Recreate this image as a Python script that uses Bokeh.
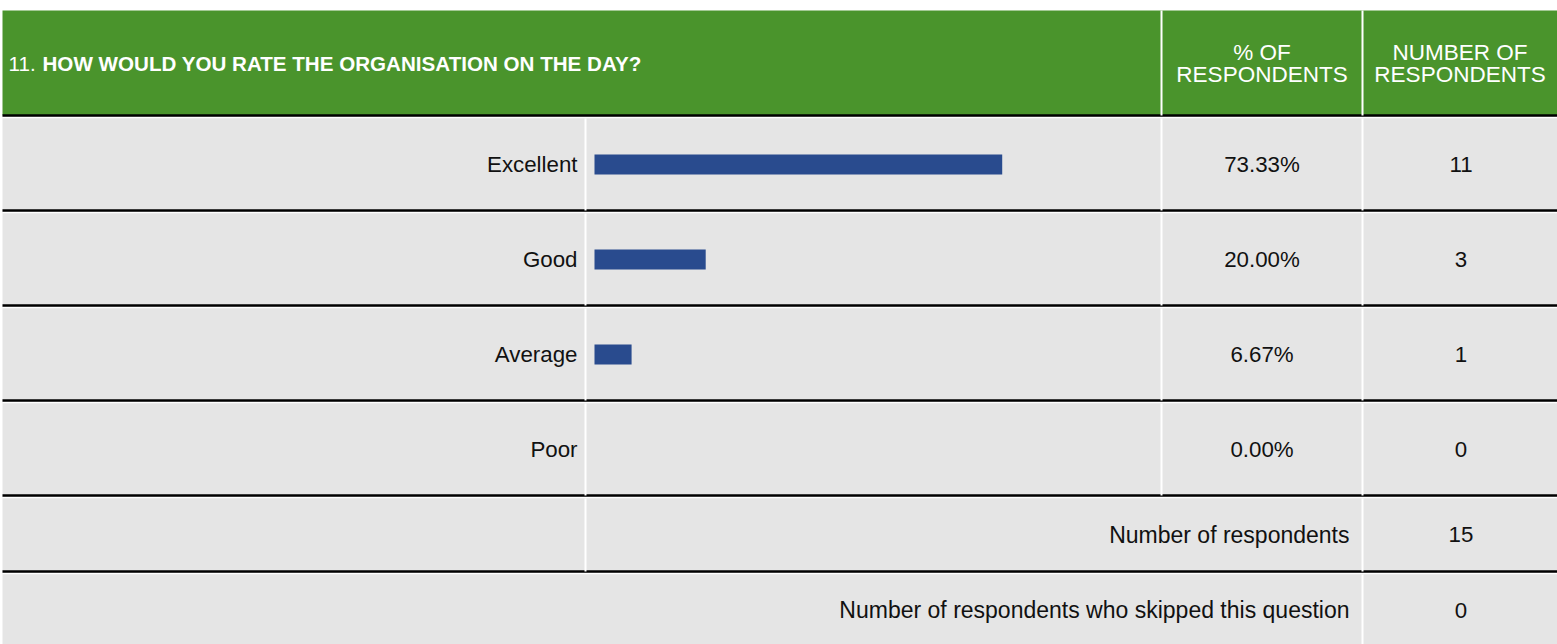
from bokeh.plotting import figure
from bokeh.models import Range1d
from bokeh.core.properties import value
from bokeh.embed import file_html
from bokeh.resources import INLINE

# ---- data ----
question_no = "11. "
question = "HOW WOULD YOU RATE THE ORGANISATION ON THE DAY?"
col_headers = ["% OF\nRESPONDENTS", "NUMBER OF\nRESPONDENTS"]
categories = ["Excellent", "Good", "Average", "Poor"]
percents = [73.33, 20.00, 6.67, 0.00]
counts = [11, 3, 1, 0]
total_label = "Number of respondents"
total_value = 15
skipped_label = "Number of respondents who skipped this question"
skipped_value = 0

# ---- layout (pixels) ----
W, H = 1557, 644
FONT = "Liberation Sans"
GREEN = "#4A942C"
GRAY = "#E5E5E5"
BLUE = "#294B8E"
BODY = "22.3px"
left_edge = 2
col1, col2, col3 = 585, 1161, 1362
head_top, head_bot = 10, 115
row_h = 95
row_tops = [head_bot + i * row_h for i in range(len(categories))]
sum_tops = [row_tops[-1] + row_h, row_tops[-1] + row_h + 76]
sum_bots = [sum_tops[1], H + 5]
bar_zero, bar_hundred = 594, 1150

p = figure(width=W, height=H, x_range=Range1d(0, W), y_range=Range1d(H, 0),
           output_backend="svg", toolbar_location=None, min_border=0,
           background_fill_color="white", border_fill_color="white")
p.axis.visible = False
p.grid.visible = False
p.outline_line_color = None

# percent scale for bars
scale = (bar_hundred - bar_zero) / 100.0
p.extra_x_ranges["pct"] = Range1d(-bar_zero / scale, (W - bar_zero) / scale)

# header
p.quad(left=[left_edge], right=[W], top=[head_top], bottom=[head_bot], fill_color=GREEN, line_color=None)
# rows backgrounds
tops = row_tops + sum_tops
bots = [t + row_h for t in row_tops] + sum_bots
p.quad(left=[left_edge] * len(tops), right=[W] * len(tops), top=tops, bottom=bots,
       fill_color=GRAY, line_color=None)

# horizontal separators: black then white
seps = [head_bot] + [t + row_h for t in row_tops] + [sum_tops[1]]
for y in seps:
    p.segment(x0=[left_edge], x1=[W], y0=[y], y1=[y], line_color="black", line_width=2.5)
    p.segment(x0=[left_edge], x1=[W], y0=[y + 2.2], y1=[y + 2.2], line_color="white", line_width=1.2)

# vertical white lines
vx0, vy0, vy1 = [], [], []
for x in (col2, col3):
    vx0.append(x); vy0.append(head_top); vy1.append(head_bot)
for t in row_tops:
    for x in (col1, col2, col3):
        vx0.append(x); vy0.append(t + 3); vy1.append(t + row_h)
for x in (col1, col3):
    vx0.append(x); vy0.append(sum_tops[0] + 3); vy1.append(sum_bots[0])
vx0.append(col3); vy0.append(sum_tops[1] + 3); vy1.append(H)
p.segment(x0=vx0, x1=vx0, y0=vy0, y1=vy1, line_color="white", line_width=2)

# bars
centers = [t + row_h / 2 + 1 for t in row_tops]
p.hbar(y=[c + 0.5 for c in centers], left=0, right=percents, height=20, fill_color=BLUE,
       line_color=None, x_range_name="pct")

# header texts
title_y = (head_top + head_bot) / 2
p.text(x=[8], y=[title_y], text=[question_no], text_font=value(FONT), text_font_size="20.6px",
       text_color="white", text_baseline="middle", text_align="left")
p.text(x=[42], y=[title_y], text=[question], text_font=value(FONT), text_font_size="20.6px",
       text_font_style="bold", text_color="white", text_baseline="middle", text_align="left")
p.text(x=[(col2 + col3) / 2, (col3 + W) / 2], y=[title_y, title_y], text=col_headers,
       text_font=value(FONT), text_font_size="22.5px", text_color="white",
       text_baseline="middle", text_align="center", text_line_height=0.88)

# row texts
p.text(x=[col1 - 8] * len(categories), y=centers, text=categories, text_font=value(FONT),
       text_font_size=BODY, text_color="#111111", text_baseline="middle", text_align="right")
p.text(x=[(col2 + col3) / 2] * len(categories), y=centers, text=[f"{v:.2f}%" for v in percents],
       text_font=value(FONT), text_font_size=BODY, text_color="#111111",
       text_baseline="middle", text_align="center")
p.text(x=[(col3 + W) / 2 + 1] * len(categories), y=centers, text=[str(c) for c in counts],
       text_font=value(FONT), text_font_size=BODY, text_color="#111111",
       text_baseline="middle", text_align="center")

# summary rows
sum_centers = [(sum_tops[0] + sum_bots[0]) / 2 + 1, (sum_tops[1] + 644) / 2 + 2]
p.text(x=[col3 - 13] * 2, y=sum_centers, text=[total_label, skipped_label], text_font=value(FONT),
       text_font_size="23px", text_color="#111111", text_baseline="middle", text_align="right")
p.text(x=[(col3 + W) / 2 + 1] * 2, y=sum_centers, text=[str(total_value), str(skipped_value)],
       text_font=value(FONT), text_font_size=BODY, text_color="#111111",
       text_baseline="middle", text_align="center")

open("out.html", "w").write(file_html(p, INLINE))
